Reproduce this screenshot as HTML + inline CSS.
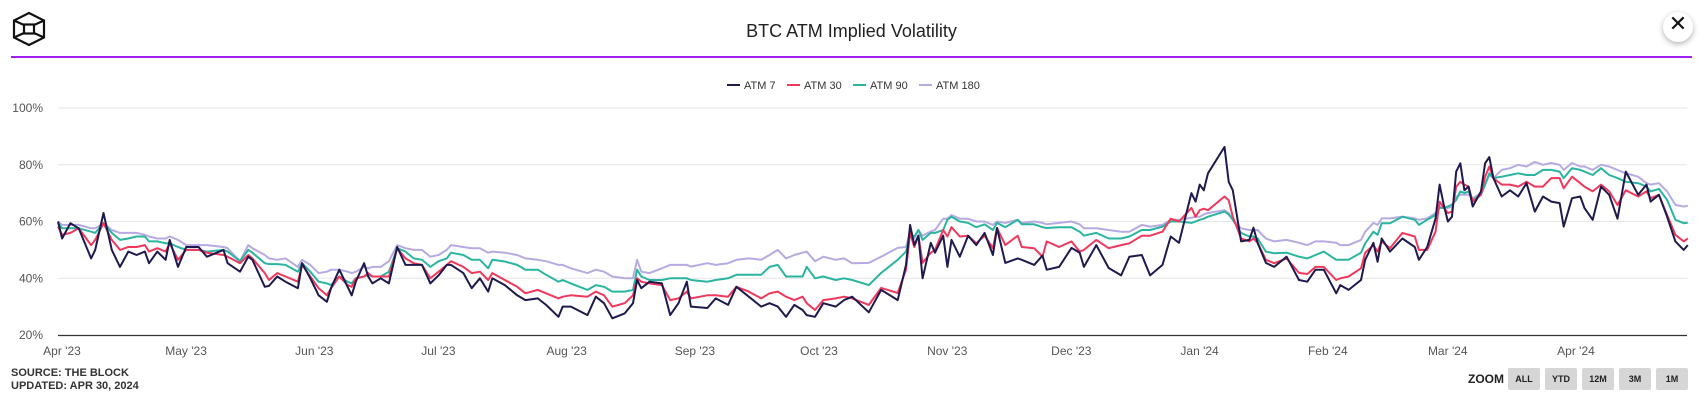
<!DOCTYPE html>
<html><head><meta charset="utf-8">
<style>
body{margin:0;background:#fff;font-family:"Liberation Sans",sans-serif;}
#wrap{position:relative;width:1703px;height:402px;overflow:hidden;}
.btn{position:absolute;top:368px;height:22px;width:32px;background:#d6d6d6;border-radius:2px;font:bold 9px "Liberation Sans",sans-serif;color:#222;text-align:center;line-height:22px;}
</style></head>
<body>
<div id="wrap">
<svg id="logo" style="position:absolute;left:11px;top:11px" width="36" height="36" viewBox="0 0 36 36">
<path d="M18 2 L33 9.5 L33 26.5 L18 34 L3 26.5 L3 9.5 Z" fill="none" stroke="#111" stroke-width="2.2"/>
<path d="M3 9.5 L13 14 M33 9.5 L23 14 M3 26.5 L13 22 M33 26.5 L23 22" stroke="#111" stroke-width="2.2"/>
<rect x="13" y="13.5" width="10" height="9" fill="none" stroke="#111" stroke-width="2.2"/>
</svg>
<div style="position:absolute;left:0;width:1703px;top:21px;text-align:center;font-size:18px;color:#222;">BTC ATM Implied Volatility</div>
<div style="position:absolute;left:1663px;top:12px;width:30px;height:30px;border-radius:50%;background:#fff;box-shadow:0 2px 6px rgba(0,0,0,0.3);text-align:center;line-height:30px;font:bold 22px 'DejaVu Sans',sans-serif;color:#111;">✕</div>
<div style="position:absolute;left:11px;top:56px;width:1681px;height:2px;background:#a020f0;"></div>
<svg id="chart" width="1703" height="402" style="position:absolute;left:0;top:0"></svg>
<div style="position:absolute;left:11px;top:367px;font:bold 11px 'Liberation Sans',sans-serif;color:#333;line-height:13px;">SOURCE: THE BLOCK<br>UPDATED: APR 30, 2024</div>
<div style="position:absolute;left:1468px;top:372px;font:bold 12px 'Liberation Sans',sans-serif;color:#222;">ZOOM</div>
<div class="btn" style="left:1508px">ALL</div>
<div class="btn" style="left:1545px">YTD</div>
<div class="btn" style="left:1582px">12M</div>
<div class="btn" style="left:1619px">3M</div>
<div class="btn" style="left:1656px">1M</div>
</div>
<script>
const seriesNames=["ATM 7","ATM 30","ATM 90","ATM 180"];
const seriesColors=["#1e1a4d","#f0385c","#2bb5a0","#b7aae2"];
const yTicks=[20,40,60,80,100];
const monthLabels=["Apr '23","May '23","Jun '23","Jul '23","Aug '23","Sep '23","Oct '23","Nov '23","Dec '23","Jan '24","Feb '24","Mar '24","Apr '24"];
const monthDays=[0,30,61,91,122,153,183,214,244,275,306,335,366];
const days=[0,1,3,5,8,9,11,13,15,17,19,21,22,24,26,27,29,31,34,36,40,41,44,46,47,50,51,53,55,58,59,61,63,65,66,68,70,71,72,74,75,76,78,80,82,84,86,88,90,92,94,95,98,100,102,104,105,108,111,113,116,118,121,122,124,128,130,132,134,137,139,140,141,143,146,148,150,152,153,157,159,162,164,167,170,172,174,176,178,180,181,183,185,188,190,192,196,199,203,205,206,207,208,209,211,212,214,215,216,218,220,222,224,226,227,229,232,233,236,238,239,242,245,247,248,251,254,257,259,262,264,267,269,271,274,275,276,277,278,282,283,284,286,288,289,290,292,294,297,300,302,304,306,309,310,312,315,316,318,319,320,322,325,328,329,331,333,334,335,336,337,338,339,340,341,342,344,345,346,347,349,351,353,355,357,359,361,363,364,366,368,369,371,373,375,377,379,382,384,385,387,389,391,393,394];
const atm7=[60,54,59.4,57.6,47,50,63,50,44,49.4,48.2,49.4,45.3,49.4,46.5,53.5,44,51,51,47.6,50,45.3,42.3,47.6,46.5,37,37.3,40.6,38.8,36.5,45.3,40,34,31.7,36.5,43,37,34,38.8,45.3,40.6,38.2,40,38.2,51,44.7,44.7,44.7,38.2,41,44.7,44.7,41.8,36.5,40,35.3,40,37.6,34,32.3,32.9,30.6,26.4,30,30,27,33.5,31.2,25.9,27.6,31.2,39.4,36.5,38.8,38.2,27,31.2,38.8,30,29.5,32.9,30.6,37,33.5,30,31.2,30,26.4,30.6,28.8,27,26.4,31.2,30,32.3,33.5,28,35.9,32.3,44.7,58.8,51.7,55,40,52.5,49,55,44,53.5,47.6,55,51.7,56,48.2,57.7,45.4,47,46.5,44.7,48,43,44,50.7,49,44,51.7,43.6,41,47.6,48.2,41,44.7,54.7,52.5,70,67,73,71,77,86.3,74,71,53,53.5,57.8,52.5,45.4,44,47.6,39.4,38.8,43,43,34.7,37.6,35.9,39.4,46.5,52.5,45.8,54,49.4,54,51,46.5,51,61,73,65.8,60,61.7,77.6,80.5,71,72.3,65.3,70.6,80.5,82.7,75.3,68.8,71,68.8,73.5,63.5,68.8,67,66.5,58.2,68.2,68.8,64.8,60.6,72.3,69.4,61,77.6,69.4,73,67,69.4,61.7,53,50,51.7];
const atm30=[58.2,55.3,56,57.6,51.7,53.5,59.4,53.5,50,51,51,51.7,49.4,50.6,49.4,52.3,46.5,50,50,49,48.2,47.6,45.3,48.2,47,41.8,39.4,41.8,40.6,38.8,44.7,40.6,36.5,34,36.5,40.6,37.6,37,40,40.6,41.8,40.6,40.6,40.6,50.6,47,45.3,44.7,40,42.3,44.7,46,44,41.8,42.3,39.4,41.8,39.4,37,34.7,35.9,34.7,32.9,33.5,34,33.5,35.3,34,30,31.2,34,40,38.8,38.2,37.6,32.3,32.9,35.3,32.9,34,34,33.5,37,35.3,32.9,34.7,35.3,33.5,32.3,33.5,31.2,28.8,32.3,32.9,33.5,32.9,30.6,36.6,34.8,43,56,51,55,45.4,49,50,57,54.7,58,54.7,55,52.3,55,50.6,57.7,51.7,55,51,50.6,47.6,53,51,53,49.4,50,53.5,50.6,51.7,52.3,55,55,56.4,61,60,64.8,61.7,64,64.5,64,68.8,67.5,61.7,54,53,54,52.5,46.5,45.3,47,41.9,41.5,44,44,39.4,40,40.6,43.5,49,51.7,49.4,53,50.6,56,54.7,50,50,56.4,67,64.8,63,63.5,72.3,74,73,72.3,67,69.4,75.8,79.4,75.3,73,73,72.3,74,72.3,72.3,75.3,75.3,71.7,75.8,73.5,72.3,70.6,73,70.6,65.8,71,68.8,70.6,68.2,69.4,62.3,55.3,53,54];
const atm90=[59.5,57.6,57.6,57.6,56.4,56,59.4,56,53.5,54,54.7,54.7,53,53,52.3,52.3,51,50,50,49.4,50,49.4,46,50,49,45.3,45,45,44.7,42.3,45.3,42.3,38.8,38.2,37.6,40.6,38.8,38.2,40,40.6,41.2,40.6,40.6,42.3,50.6,49.4,47,46.5,44,46,47,49,48.2,46.5,46.5,43.5,46.5,45.9,44.7,43,43,41.2,38.8,39.4,38.2,35.9,37.6,37,35.3,35.3,35.9,43,40.6,39.4,39.4,40,40,40,39.4,38.8,39.4,40,41.2,41.2,41.2,44,44.7,40.6,40.6,40.6,44,40,40.6,39.4,40,39.4,37.6,41.9,46.5,49.4,55.3,54.7,57,53.5,56,56,57,60.6,61.7,60,59.5,58,59,57,59.5,58,60.6,59,59,58,57.7,58,58,56.4,55,56,54,54,54.7,57,57,58.2,60,60,59.5,60,60.6,61,61.7,63.5,62.5,60.6,56,54.7,54.7,54,49.4,48.8,49,47.6,47,48.2,49.4,46.5,46.5,46.5,49,52.3,56.4,55.3,59.4,59.4,61.7,60.6,58.8,60.6,62.3,64.8,64.8,65.3,66,67.6,70.6,70,70.6,67.6,69.4,73,77,75.3,75.8,76.4,77,76.4,76.4,78.2,78.2,77.6,75.3,78.8,78.2,77.6,76.4,78.8,76.4,75.3,74,73.5,72.3,70.6,71.5,67.6,60.6,59.4,59.6];
const atm180=[60,58.8,58.8,58.8,57.6,57.6,59.4,57,56,56,56,55.3,54.7,54,54,54.7,53.5,51.7,51.7,51.7,51,50.6,46,51.7,50.6,48.2,47,46.5,47,44,46.5,44.7,41.8,42.3,43,43,42.3,41.8,42.3,44,43.5,44,44,46,51.7,50.6,50,50,47.6,48.2,50,51.7,51,50.6,50.6,49,49.4,49,48.2,47,46.5,46,44.7,44.7,43.5,41.8,43,42.3,40.6,40,40,46.5,42.3,41.8,43.5,44.7,44.7,44.7,44.1,45.3,44.7,45.3,46.5,47,46.5,48.2,50,47,48.2,49,49.4,46,47.6,46.5,47,45.3,45.4,47.6,50.7,51,56.4,54,57,55,56.5,57,61,61,62.3,61,61,60,60,58.8,60,59.5,60.6,59.5,60,59.5,59,59.5,60,59,57.6,57.6,57,56.4,56.4,58.8,58.2,58.8,60.6,60.6,61.3,61.7,61.7,62.5,63,64,63,60.6,57.6,57,57,57,54,53,53.5,52.5,51.7,53,53,52.5,51.7,51.7,53.5,56.4,59.5,58.8,61.1,61.1,61.7,61.1,60.6,61.1,63,65.3,64.8,64.8,65.3,68.8,69.4,69.4,69.4,68.2,70,73,76.4,75.3,78.2,78.8,80,79.4,81,80,80.6,80,78.2,80.6,79.4,79.4,78.2,80,79.4,78.2,77,75.8,73.5,73,73.5,70.6,65.8,65.3,65.5];
const allSeries=[atm7,atm30,atm90,atm180];

const NS="http://www.w3.org/2000/svg";
const svg=document.getElementById('chart');
const X0=58,PXD=(1572-58)/366,XR=1687;
const Y20=335,PXV=(335-108)/80;
function xs(d){return X0+d*PXD;}
function ys(v){return Y20-(v-20)*PXV;}
function mk(tag,attrs){const e=document.createElementNS(NS,tag);for(const k in attrs)e.setAttribute(k,attrs[k]);svg.appendChild(e);return e;}

yTicks.forEach(t=>{
  if(t>20){const g=mk('line',{x1:X0,x2:XR,y1:ys(t),y2:ys(t),stroke:'#e6e6e6','stroke-width':1});
  
  }
  const lb=mk('text',{x:43,y:ys(t)+4,'text-anchor':'end','font-size':12,fill:'#555','font-family':'Liberation Sans, sans-serif'});
  lb.textContent=t+'%';
  
  
});
const ax=mk('line',{x1:X0,x2:XR,y1:Y20+0.5,y2:Y20+0.5,stroke:'#333','stroke-width':1.3});


monthLabels.forEach((m,i)=>{
  const t=mk('text',{x:xs(monthDays[i])+4,y:355,'text-anchor':'middle','font-size':12,fill:'#555','font-family':'Liberation Sans, sans-serif'});
  t.textContent=m;
  
  
});
for(let s=3;s>=0;s--){
  const pts=allSeries[s].map((v,i)=>xs(days[i]).toFixed(1)+','+ys(v).toFixed(1)).join(' ');
  const p=mk('polyline',{points:pts,fill:'none',stroke:seriesColors[s],'stroke-width':2,'stroke-linejoin':'round'});
  
  
}
// legend
let lx=727;
const widths=[52,58,58,66];
seriesNames.forEach((n,i)=>{
  const l=mk('line',{x1:lx,x2:lx+13,y1:85,y2:85,stroke:seriesColors[i],'stroke-width':2});
  
  
  const t=mk('text',{x:lx+17,y:89,'font-size':11,fill:'#333','font-family':'Liberation Sans, sans-serif'});
  t.textContent=n;
  
  
  lx+=widths[i]+8;
});
</script>
</body></html>
